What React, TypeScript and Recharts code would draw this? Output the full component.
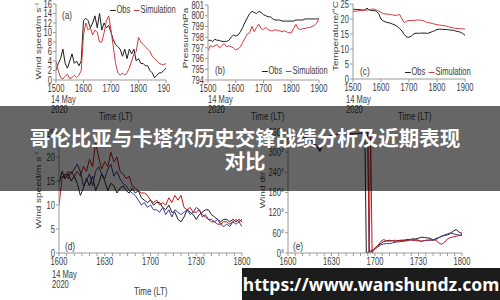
import React from 'react';
import { LineChart, Line, XAxis, YAxis } from 'recharts';

// ---------- data ----------
const minutesTop = [0,5,10,15,20,25,30,35,40,45,50,55,60,65,70,75,80,85,90,95,100,105,110,115,120,125,130,135,140,145,150,155,160,165,170,175,180,185,190,195,200,205,210,215,220,225,230,235,240];
const topTicks = [0,60,120,180,240];

const windObsA = [2,3.5,4.5,6.5,3.5,2.5,4,5.5,3.5,4,3,4,12.5,13,12.5,11,12,13.5,11,14,10.5,12,11,11.5,10,8.5,7.5,7,6.5,5,6.5,4.5,6.5,5.5,6.5,4,4.5,3.5,3.5,3,3,2,1.5,0.5,1,1.5,1.5,2,2.5];
const windSimA = [4,2,0.5,0.2,0.8,1.2,0.3,0.5,1,0.5,1,2,9.5,12,10.5,11,9.5,10.5,10,8,8,10,12.5,13.5,10.5,7,3.5,1.5,1,1.5,1,1.5,2.5,4,5.5,6,9,8,7.5,7,6.5,6,5,4.5,4,3.5,3.3,3.2,3.5];
const windTicksA = [0,2,4,6,8,10,12,14,16];

const presObsB = [797.7,797.7,797.6,797.8,797.7,797.7,797.6,797.6,797.6,797.7,798.0,798.2,798.1,798.2,798.5,798.9,799.4,799.8,800.2,800.4,800.3,800.2,800.4,800.3,800.1,800.0,799.9,799.9,799.7,799.6,799.6,799.6,799.5,799.5,799.5,799.5,799.5,799.5,799.6,799.6,799.6,799.6,799.7,799.7,799.7,799.7,799.7,799.7,799.7];
const presSimB = [796.7,797.2,797.1,797.2,797.3,797.0,797.2,797.4,797.1,797.2,797.1,797.0,796.8,796.9,797.1,797.5,797.9,798.3,798.4,799.0,798.5,798.9,799.2,798.8,798.7,798.9,798.7,798.6,798.6,798.7,798.6,798.6,798.5,798.6,798.5,798.4,798.4,798.8,799.2,798.8,798.7,798.8,798.8,798.9,798.9,799.0,799.1,799.3,799.7];
const presTicksB = [794,795,796,797,798,799,800,801];

const tempObsC = [23.2,23.2,23.2,23.1,23.0,23.0,23.6,23.0,22.8,22.8,22.6,21.8,20.0,19.3,19.0,18.8,18.6,18.3,18.0,17.5,16.8,16.0,14.8,14.0,13.9,14.3,15.0,15.3,15.2,15.3,15.3,15.3,15.2,15.5,15.8,16.1,16.5,16.6,16.6,16.5,16.5,16.4,16.3,16.2,16.0,15.8,15.6,15.2,14.6];
const tempSimC = [22.5,22.6,22.7,22.8,22.8,22.9,23.0,23.1,23.3,23.3,23.0,22.6,22.2,21.8,21.7,21.6,21.5,21.4,21.2,21.3,21.5,20.0,18.8,19.3,19.5,19.5,19.5,19.6,19.7,19.6,19.5,19.1,18.8,18.7,18.5,18.3,18.1,18.0,17.9,17.8,17.6,17.4,17.2,17.0,16.9,16.8,16.8,16.7,16.7];
const tempTicksC = [0,5,10,15,20,25];

const minutesD = [0,2,4,6,8,10,12,14,16,18,20,22,24,26,28,30,32,34,36,38,40,42,44,46,48,50,52,54,56,58,60,62,64,66,68,70,72,74,76,78,80,82,84,86,88,90,92,94,96,98,100,102,104,106,108,110,112,114,116,118,120];
const windBlackD = [14.5,17,15.5,16.5,15,16,14.5,12,13.5,15.5,14,16,13,14.5,16.5,15,13,14.5,14,12.5,13.5,14,13,12.5,13.5,12.5,13,11.5,11,10.5,11,10,10.5,10.5,9.5,9,10,8.5,8.5,7,6.5,7.5,9,8.5,8,7,8,8.5,9,9,8,7.5,7,6.5,7,7,6.5,7,6.5,7,6.5];
const windBlueD = [15,16,15.5,17,16.5,17.5,18.5,17,14,15,16.5,14,17,18,16.5,15.5,17.5,18.5,16,17,15.5,14.5,14,13,12.5,12,11,10,10.5,9.5,10,9,9,8.5,9.5,8,9,7.5,9,8.5,8,8.5,9,8,8.5,9.5,9,7.5,8,7,7,6.5,7,6,5.5,6,5.5,6.5,6,6.5,5.5];
const windRedD = [10,15.5,16.5,15.5,17,16,17,16,18,17,19.5,18,23,20,17.5,19,18,21,19,20,17,16.5,15.5,16,14,13.5,13,12.5,12.5,12,11,10.5,11,10,10.5,10,11.5,10.5,12,11,12,9.5,9,9.5,8.5,8.5,9,8,7.5,7,6.5,6.5,6,6,6.5,6.5,6,6.5,7,6.5,7];
const windTicksD = [0,5,10,15,20,25];
const bottomTicks = [0,5,10,15,20,25,30,35,40,45,50,55,60,65,70,75,80,85,90,95,100,105,110,115,120];

const minutesE = [0,4,8,12,16,20,22,24,28,32,36,40,44,48,52,53,54,55,56,57,58,59,60,62,64,66,68,70,72,74,76,78,80,82,84,86,88,90,92,94,96,98,100,102,104,106,108,110,112,114,116,118,120];
const dirBlackE = [352,350,348,345,335,315,302,322,345,352,355,352,355,356,357,358,0,2,4,6,8,11,15,22,28,34,36,38,36,35,37,38,38,40,40,42,42,44,47,46,45,44,38,43,46,50,52,54,58,65,70,62,58];
const dirBlueE = [354,352,348,344,332,318,306,325,346,350,354,353,356,355,357,358,358,359,0,3,6,9,12,18,24,27,28,28,30,32,33,34,35,37,38,39,40,38,35,37,38,38,38,40,45,50,54,57,60,57,55,53,52];
const dirRedE = [350,352,346,344,336,320,310,328,348,352,353,355,354,356,357,357,358,359,0,358,0,8,15,22,35,40,36,35,37,38,36,37,38,36,40,38,37,36,35,37,38,39,40,38,30,26,32,42,46,48,50,52,55];
const dirTicksE = [0,60,120,180,240,300,360];

// ---------- helpers ----------
const FONT = '"Liberation Sans", Arial, sans-serif';
const TXT = '#3a3a3a';
const SQUEEZE = 0.72;
const AXIS = '#9a9a9a';
const FRAME = '#c8c8c8';

const hhmm = (baseHour: number) => (m: number) => {
  const total = baseHour * 60 + m;
  const h = Math.floor(total / 60);
  const mm = total % 60;
  return `${h}${String(mm).padStart(2, '0')}`;
};

const makeTick = (axis: 'x' | 'y', fmt?: (v: number) => string) => (p: any) => {
  const v = p.payload.value;
  const label = fmt ? fmt(v) : String(v);
  return (
    <g transform={`translate(${p.x},${p.y})`}>
      <text transform={`scale(${SQUEEZE},1)`} textAnchor={axis === 'x' ? 'middle' : 'end'}
        dy={axis === 'x' ? '0.71em' : '0.355em'} fontSize={10.5} fill={TXT} fontFamily={FONT}>
        {label}
      </text>
    </g>
  );
};

type SeriesDef = { key: string; color: string; values: number[] };

function Panel(props: {
  left: number; top: number; width: number; height: number;
  margin: { top: number; right: number; bottom: number; left: number };
  yWidth: number; times: number[]; series: SeriesDef[];
  xDomain: [number, number]; xTicks: number[]; xFmt: (v: number) => string;
  yDomain: [number, number]; yTicks: number[]; yFmt?: (v: number) => string;
}) {
  const rows = props.times.map((t, i) => {
    const r: Record<string, number> = { t };
    props.series.forEach((s) => { r[s.key] = s.values[i]; });
    return r;
  });
  return (
    <div style={{ position: 'absolute', left: props.left, top: props.top }}>
      <LineChart width={props.width} height={props.height} data={rows} margin={props.margin}>
        <XAxis dataKey="t" type="number" domain={props.xDomain} ticks={props.xTicks}
          tick={makeTick('x', props.xFmt)} tickSize={3} tickMargin={2}
          stroke={AXIS} height={20} interval={0} allowDataOverflow />
        <XAxis xAxisId="top" orientation="top" dataKey="t" type="number" domain={props.xDomain}
          tick={false} tickLine={false} axisLine={{ stroke: FRAME }} height={0} />
        <YAxis type="number" domain={props.yDomain} ticks={props.yTicks}
          tick={makeTick('y', props.yFmt)} tickSize={3} tickMargin={1} stroke={AXIS} width={props.yWidth}
          interval={0} allowDataOverflow />
        <YAxis yAxisId="right" orientation="right" type="number" domain={props.yDomain}
          tick={false} tickLine={false} axisLine={{ stroke: FRAME }} width={0} />
        {props.series.map((s) => (
          <Line key={s.key} dataKey={s.key} stroke={s.color} strokeWidth={1} dot={false}
            isAnimationActive={false} type="linear" />
        ))}
      </LineChart>
    </div>
  );
}

const txt = (left: number, top: number, content: React.ReactNode, extra: React.CSSProperties = {}) => (
  <div style={{ position: 'absolute', left, top, fontFamily: FONT, fontSize: 10.5, color: TXT, whiteSpace: 'nowrap', lineHeight: '10px', transform: `scaleX(${SQUEEZE})`, transformOrigin: '0 0', ...extra }}>
    {content}
  </div>
);

const vlabel = (cx: number, cy: number, content: React.ReactNode) => (
  <div style={{ position: 'absolute', left: cx, top: cy, transform: `translate(-50%,-50%) rotate(-90deg) scaleY(${SQUEEZE})`, fontFamily: FONT, fontSize: 10, color: TXT, whiteSpace: 'nowrap', lineHeight: '12px' }}>
    {content}
  </div>
);

const legendItem = (color: string, label: string) => (
  <span style={{ marginRight: 5 }}>
    <span style={{ display: 'inline-block', width: 8, height: 0, borderTop: `1px solid ${color}`, verticalAlign: 'middle', marginRight: 1 }} />
    {label}
  </span>
);

const BLACK = '#1e1e1e';
const RED_A = '#d23a3a';
const RED_D = '#c01818';
const BLUE = '#3a3aa0';

export default function App() {
  return (
    <div style={{ position: 'absolute', left: 0, top: 0, width: 500, height: 300, background: '#fff', overflow: 'hidden' }}>
      {/* (a) wind speed */}
      <Panel left={0} top={0} width={170} height={100} margin={{ top: 4, right: 4, bottom: 0, left: 0 }}
        yWidth={56} times={minutesTop}
        series={[{ key: 'obs', color: BLACK, values: windObsA }, { key: 'sim', color: RED_A, values: windSimA }]}
        xDomain={[0, 240]} xTicks={topTicks} xFmt={hhmm(15)} yDomain={[0, 16]} yTicks={windTicksA} />
      {/* (b) pressure */}
      <Panel left={165} top={0} width={166} height={100} margin={{ top: 5, right: 12, bottom: 0, left: 0 }}
        yWidth={43} times={minutesTop}
        series={[{ key: 'obs', color: BLACK, values: presObsB }, { key: 'sim', color: RED_A, values: presSimB }]}
        xDomain={[0, 240]} xTicks={topTicks} xFmt={hhmm(15)} yDomain={[794, 801]} yTicks={presTicksB} />
      {/* (c) temperature */}
      <Panel left={330} top={0} width={150} height={99} margin={{ top: 4, right: 15, bottom: 0, left: 0 }}
        yWidth={23} times={minutesTop}
        series={[{ key: 'obs', color: BLACK, values: tempObsC }, { key: 'sim', color: RED_A, values: tempSimC }]}
        xDomain={[0, 240]} xTicks={topTicks} xFmt={hhmm(15)} yDomain={[0, 25]} yTicks={tempTicksC} />
      {/* (d) wind speed detail */}
      <Panel left={0} top={128} width={256} height={145} margin={{ top: 5, right: 14, bottom: 0, left: 0 }}
        yWidth={59} times={minutesD}
        series={[{ key: 'black', color: BLACK, values: windBlackD }, { key: 'blue', color: BLUE, values: windBlueD }, { key: 'red', color: RED_D, values: windRedD }]}
        xDomain={[0, 120]} xTicks={bottomTicks} xFmt={(v) => (v % 30 === 0 ? hhmm(16)(v) : '')}
        yDomain={[0, 25]} yTicks={windTicksD} />
      {/* (e) wind direction */}
      <Panel left={250} top={127} width={226} height={146} margin={{ top: 5, right: 14, bottom: 0, left: 0 }}
        yWidth={38} times={minutesE}
        series={[{ key: 'black', color: BLACK, values: dirBlackE }, { key: 'blue', color: BLUE, values: dirBlueE }, { key: 'red', color: RED_D, values: dirRedE }]}
        xDomain={[0, 120]} xTicks={bottomTicks} xFmt={(v) => (v % 30 === 0 ? hhmm(16)(v) : '')}
        yDomain={[0, 360]} yTicks={dirTicksE} yFmt={(v) => `${v}°`} />

      {/* axis titles */}
      {vlabel(38, 41, <span>Wind speed/m s<sup style={{ fontSize: 6 }}>-1</sup></span>)}
      {vlabel(186, 38, 'Pressure/hPa')}
      {vlabel(336, 36, 'Temperature/°C')}
      {vlabel(38, 190, <span>Wind speed/m s<sup style={{ fontSize: 6 }}>-1</sup></span>)}
      {vlabel(263, 190, 'Wind dir')}

      {/* date labels */}
      {txt(51, 94, <span>14 May<br />2020</span>)}
      {txt(208, 94, <span>14 May<br />2020</span>)}
      {txt(346, 94, <span>14 May<br />2020</span>)}
      {txt(52, 269, <span>14 May<br />2020</span>)}
      {txt(281, 269, <span>14 May<br />2020</span>)}

      {/* x titles */}
      {txt(99, 111, 'Time (LT)', { fontSize: 11 })}
      {txt(251, 111, 'Time (LT)', { fontSize: 11 })}
      {txt(398, 111, 'Time (LT)', { fontSize: 11 })}
      {txt(134, 286, 'Time (LT)', { fontSize: 11 })}
      {txt(362, 286, 'Time (LT)', { fontSize: 11 })}

      {/* panel letters */}
      {txt(62, 10, '(a)', { fontSize: 11.5 })}
      {txt(215, 65, '(b)', { fontSize: 11.5 })}
      {txt(360, 66, '(c)', { fontSize: 11.5 })}
      {txt(65, 241, '(d)', { fontSize: 11.5 })}
      {txt(293, 241, '(e)', { fontSize: 11.5 })}

      {/* legends */}
      {txt(110, 4, <span>{legendItem(BLACK, 'Obs')}{legendItem(RED_A, 'Simulation')}</span>)}
      {txt(262, 65, <span>{legendItem(BLACK, 'Obs')}{legendItem(RED_A, 'Simulation')}</span>)}
      {txt(405, 66, <span>{legendItem(BLACK, 'Obs')}{legendItem(RED_A, 'Simulation')}</span>)}

      {/* banner overlay */}
      <div style={{ position: 'absolute', left: 0, top: 106, width: 500, height: 85, background: 'rgba(0,0,0,0.6)' }} />
      <div style={{ position: 'absolute', left: 25, top: 126, width: 440, textAlign: 'center', color: '#fff', fontFamily: '"Noto Sans CJK SC", sans-serif', fontWeight: 700, fontSize: 20.5, lineHeight: '23px' }}>
        哥伦比亚与卡塔尔历史交锋战绩分析及近期表现对比
      </div>

      {/* watermark */}
      <div style={{ position: 'absolute', left: 242, top: 268, width: 258, height: 32, background: '#1c1c1c', color: '#fff', fontFamily: '"Noto Sans", sans-serif', fontWeight: 700, fontSize: 17.5, lineHeight: '32px', textAlign: 'center', whiteSpace: 'nowrap' }}>
        https://www.wanshundz.com
      </div>
    </div>
  );
}
